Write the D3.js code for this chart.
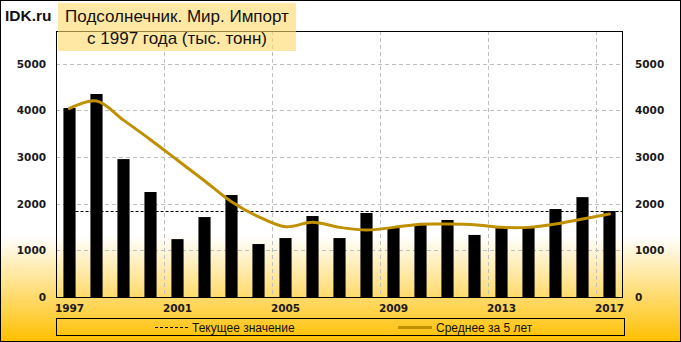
<!DOCTYPE html>
<html><head><meta charset="utf-8">
<script src="https://cdn.jsdelivr.net/npm/d3@7"></script>
<style>body{margin:0;padding:0;background:#fff}svg{display:block}</style>
</head><body>
<script>
const years = d3.range(1997, 2018).map(String);
const importValues = [4050, 4350, 2955, 2250, 1240, 1713, 2185, 1135, 1263, 1735, 1263, 1800, 1500, 1550, 1650, 1330, 1490, 1490, 1885, 2140, 1841];
const avg5Values = [4040, 4200, 3790, 3370, 2930, 2490, 2040, 1720, 1506, 1600, 1492, 1435, 1492, 1560, 1563, 1548, 1492, 1492, 1563, 1670, 1777];
const currentValue = 1841;
const yTicks = [0, 1000, 2000, 3000, 4000, 5000];
const xTickLabels = ["1997", "2001", "2005", "2009", "2013", "2017"];
const titleLines = ["Подсолнечник. Мир. Импорт", "с 1997 года (тыс. тонн)"];
const legendLabels = ["Текущее значение", "Среднее за 5 лет"];

const W = 681, H = 342;
const L = 56, R = 623, T = 31, B = 297;
const svg = d3.select("body").append("svg").attr("width", W).attr("height", H);

const defs = svg.append("defs");
const g = defs.append("linearGradient").attr("id", "bg").attr("x1", 0).attr("y1", 0).attr("x2", 0).attr("y2", 1);
g.append("stop").attr("offset", "0").attr("stop-color", "#ffffff");
g.append("stop").attr("offset", "0.69").attr("stop-color", "#ffffff");
g.append("stop").attr("offset", "1").attr("stop-color", "#ffc000");

svg.append("rect").attr("x", 0.5).attr("y", 0.5).attr("width", W - 1).attr("height", H - 1)
  .attr("fill", "url(#bg)").attr("stroke", "#000").attr("stroke-width", 1);

const x = d3.scaleBand().domain(years).range([L, R]).paddingInner(0.55).paddingOuter(0.275);
const y = d3.scaleLinear().domain([0, 5700]).range([B, T]);

// gridlines
const grid = svg.append("g").attr("stroke", "#bfbfbf").attr("stroke-dasharray", "4,3").attr("stroke-width", 1);
grid.selectAll("line.h").data(yTicks.filter(d => d > 0)).join("line")
  .attr("x1", L).attr("x2", R).attr("y1", d => Math.round(y(d)) + 0.5).attr("y2", d => Math.round(y(d)) + 0.5);
grid.selectAll("line.v").data(xTickLabels.slice(1)).join("line")
  .attr("x1", d => Math.round(x(d) - x.step() * x.paddingInner() / 2) + 0.5)
  .attr("x2", d => Math.round(x(d) - x.step() * x.paddingInner() / 2) + 0.5)
  .attr("y1", T).attr("y2", B);

// bars
svg.append("g").selectAll("rect").data(importValues).join("rect")
  .attr("x", (d, i) => x(years[i])).attr("width", x.bandwidth())
  .attr("y", d => y(d)).attr("height", d => B - y(d)).attr("fill", "#000");

// current value dashed line
svg.append("line").attr("x1", x(years[0]) + x.bandwidth()).attr("x2", R)
  .attr("y1", Math.round(y(currentValue)) + 0.5).attr("y2", Math.round(y(currentValue)) + 0.5)
  .attr("stroke", "#000").attr("stroke-dasharray", "3,2").attr("stroke-width", 1);

// 5-year average smooth line
const line = d3.line().x((d, i) => x(years[i]) + x.bandwidth() / 2).y(d => y(d)).curve(d3.curveCatmullRom.alpha(0.5));
svg.append("path").datum(avg5Values).attr("d", line).attr("fill", "none")
  .attr("stroke", "#bf9000").attr("stroke-width", 3).attr("stroke-linecap", "round");

// frame
svg.append("rect").attr("x", L + 0.5).attr("y", T + 0.5).attr("width", R - L - 1).attr("height", B - T)
  .attr("fill", "none").attr("stroke", "#000").attr("stroke-width", 1);

// axes labels
const axFont = "'DejaVu Sans', Verdana, sans-serif";
svg.append("g").selectAll("text").data(yTicks).join("text")
  .attr("x", 46).attr("y", d => y(d) + 4).attr("text-anchor", "end")
  .attr("font-family", axFont).attr("font-weight", "bold").attr("font-size", 10.5).attr("fill", "#1a1a1a").text(d => d);
svg.append("g").selectAll("text").data(yTicks).join("text")
  .attr("x", 635).attr("y", d => y(d) + 4).attr("text-anchor", "start")
  .attr("font-family", axFont).attr("font-weight", "bold").attr("font-size", 10.5).attr("fill", "#1a1a1a").text(d => d);
svg.append("g").selectAll("text").data(xTickLabels).join("text")
  .attr("x", d => x(d) + x.bandwidth() / 2).attr("y", 312).attr("text-anchor", "middle")
  .attr("font-family", axFont).attr("font-weight", "bold").attr("font-size", 10.5).attr("fill", "#1a1a1a").text(d => d);

// title
svg.append("rect").attr("x", 58).attr("y", 3).attr("width", 238).attr("height", 48)
  .attr("fill", "#ffd966").attr("fill-opacity", 0.6);
svg.append("text").attr("x", 5).attr("y", 21).attr("font-family", "'Liberation Sans', Arial, sans-serif")
  .attr("font-weight", "bold").attr("font-size", 15.5).attr("fill", "#111").text("IDK.ru");
svg.append("g").selectAll("text").data(titleLines).join("text")
  .attr("x", 177).attr("y", (d, i) => 22 + i * 22).attr("text-anchor", "middle")
  .attr("font-family", "'Liberation Sans', Arial, sans-serif").attr("font-size", 17).attr("fill", "#111").text(d => d);

// legend
const lg = svg.append("g");
lg.append("rect").attr("x", 56.5).attr("y", 318.5).attr("width", 568).attr("height", 17)
  .attr("fill", "none").attr("stroke", "#000").attr("stroke-width", 1);
lg.append("line").attr("x1", 155).attr("x2", 188).attr("y1", 327.5).attr("y2", 327.5)
  .attr("stroke", "#000").attr("stroke-dasharray", "3,2");
lg.append("line").attr("x1", 398).attr("x2", 432).attr("y1", 327.5).attr("y2", 327.5)
  .attr("stroke", "#bf9000").attr("stroke-width", 3);
lg.selectAll("text").data(legendLabels).join("text")
  .attr("x", (d, i) => i === 0 ? 192 : 436).attr("y", 332)
  .attr("font-family", "'Liberation Sans', Arial, sans-serif").attr("font-size", 12).attr("fill", "#111").text(d => d);
</script>
</body></html>
